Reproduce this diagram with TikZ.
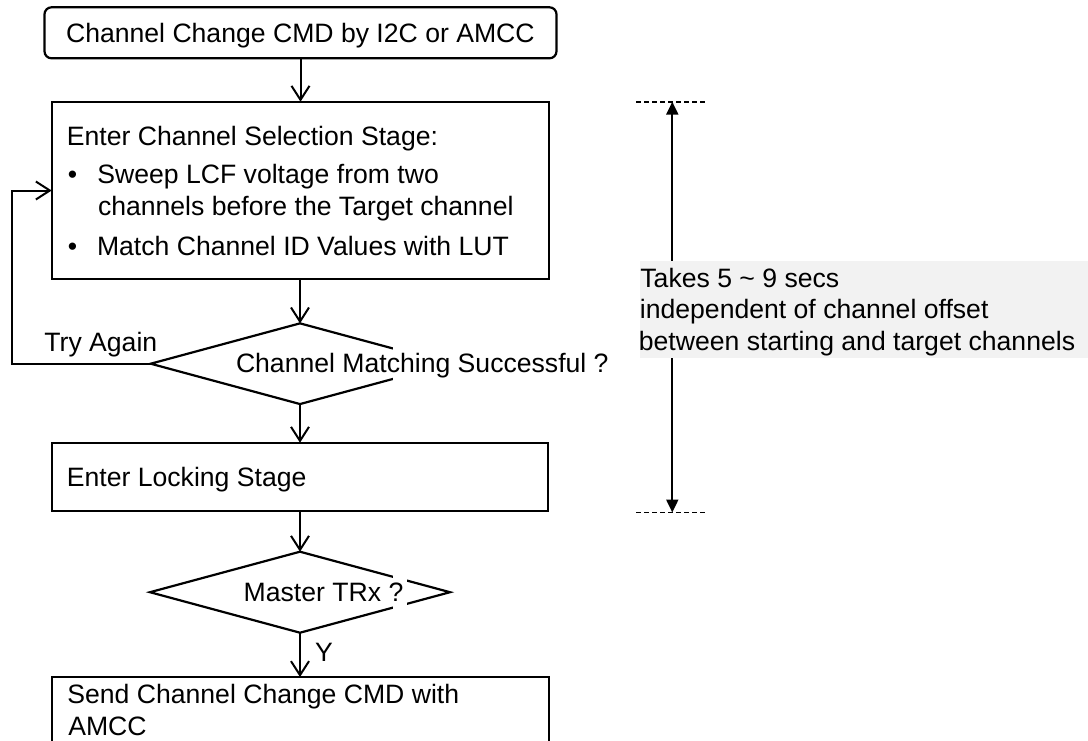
\documentclass[tikz,border=0pt]{standalone}
\usepackage{fontspec}
\setmainfont{Liberation Sans}
\usetikzlibrary{arrows.meta,shapes.geometric}
\definecolor{notegray}{RGB}{242,242,242}
\tikzset{
  box/.style={draw, line width=2.2pt, rectangle, inner sep=0pt, outer sep=0pt},
  startbox/.style={box, rounded corners=7pt},
  decision/.style={draw, line width=2.2pt, diamond, inner sep=0pt, outer sep=0pt},
  txt/.style={inner sep=0pt, outer sep=0pt, anchor=base west, font=\fontsize{26.6}{32}\selectfont},
  flow/.style={line width=2pt, -{Straight Barb[length=14pt,width=18pt]}},
  span/.style={line width=2pt, -{Triangle[length=13pt,width=12pt]}},
  limit/.style={line width=1.8pt, dash pattern=on 5pt off 3pt},
  cover/.style={fill=white, draw=none},
}
\begin{document}
\begin{tikzpicture}[x=1pt,y=-1pt]
\useasboundingbox (0,0) rectangle (1088,740);
\clip (0,0) rectangle (1088,740);

% flow chart boxes
\node[startbox, minimum width=512, minimum height=51] (start) at (300.5,32.8) {};
\node[box, minimum width=497.6, minimum height=177.6] (select) at (300.5,190.5) {};
\node[decision, minimum width=298.6, minimum height=80.7] (match) at (300,363.7) {};
\node[box, minimum width=496.3, minimum height=68] (lock) at (299.9,476.7) {};
\node[decision, minimum width=300, minimum height=81] (master) at (300,592.2) {};
\node[box, minimum width=497.3, minimum height=120] (send) at (300.3,737) {};

% text boxes of the decisions hide part of the outline
\fill[cover] (393.3,344) rectangle (460,384);
\fill[cover] (393.3,572) rectangle (406.7,614);

% texts of the flow chart
\node[txt, anchor=base] (starttxt) at (300.4,42.3) {Channel Change CMD by I2C or AMCC};
\node[txt] (selhead) at (66.9,145.7) {Enter Channel Selection Stage:};
\node[txt] (bulleta) at (67.9,183.3) {•};
\node[txt] (sweepa) at (97.4,183.3) {Sweep LCF voltage from two};
\node[txt] (sweepb) at (98,215) {channels before the Target channel};
\node[txt] (bulletb) at (67.9,255) {•};
\node[txt] (matchid) at (97,255) {Match Channel ID Values with LUT};
\node[txt] (retry) at (44.4,351.7) {Try Again};
\node[txt] (matchq) at (236,372.7) {Channel Matching Successful ?};
\node[txt] (locktxt) at (66.9,486.7) {Enter Locking Stage};
\node[txt] (masterq) at (243.7,601.7) {Master TRx ?};
\node[txt] (yes) at (315,661.7) {Y};
\node[txt] (senda) at (67.4,703.3) {Send Channel Change CMD with};
\node[txt] (sendb) at (68.3,735) {AMCC};

% connectors
\draw[flow] (start.south) -- (select.north);
\draw[flow] (match.north |- select.south) -- (match.north);
\draw[flow] (match.south) -- (match.south |- lock.north);
\draw[flow] (master.north |- lock.south) -- (master.north);
\draw[flow] (master.south) -- (master.south |- send.north);
\coordinate (loopcorner) at (12.3,363.7);
\draw[flow] (match.west) -- (loopcorner) |- (select.west);

% timing span on the right
\node[fill=notegray, inner sep=0pt, outer sep=0pt, minimum width=448, minimum height=97.6, anchor=north west] (note) at (640,260.7) {};
\node[txt] (notea) at (640.4,287.2) {Takes 5 \textasciitilde{} 9 secs};
\node[txt] (noteb) at (639.9,318.6) {independent of channel offset};
\node[txt] (notec) at (638.9,350.4) {between starting and target channels};
\coordinate (spantop) at (672.3,101.7);
\coordinate (spanbot) at (672.3,512.5);
\draw[span] (spantop |- note.north) -- (spantop);
\draw[span] (spanbot |- note.south) -- (spanbot);
\draw[limit] ([xshift=-36.3pt]spantop) -- ([xshift=33.7pt]spantop);
\draw[limit] ([xshift=-36.3pt]spanbot) -- ([xshift=33.7pt]spanbot);
\end{tikzpicture}
\end{document}
